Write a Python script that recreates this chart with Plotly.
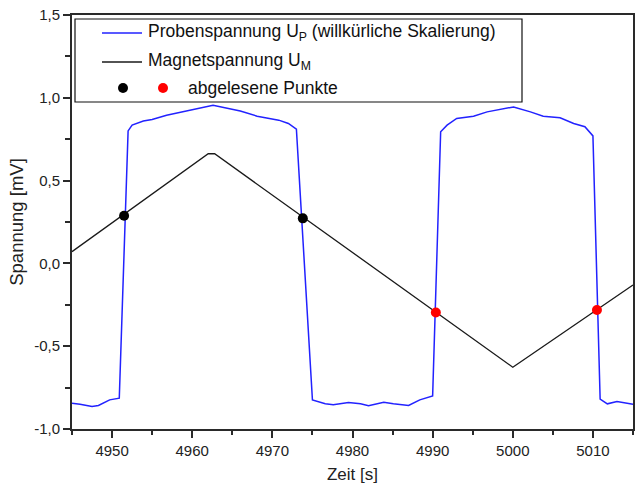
import plotly.graph_objects as go

# ---- data ----
probe_t = [4945.0, 4946.0, 4947.5, 4948.3, 4949.7, 4950.9, 4952.0, 4952.5, 4953.9, 4955.0,
           4956.8, 4959.7, 4962.6, 4966.0, 4968.1, 4970.8, 4972.0, 4973.0, 4975.0, 4976.6,
           4977.6, 4979.5, 4981.0, 4982.0, 4983.9, 4985.1, 4987.0, 4988.4, 4990.0, 4991.0,
           4991.8, 4993.0, 4995.1, 4996.8, 5000.1, 5002.2, 5003.8, 5005.9, 5007.6, 5009.0,
           5010.0, 5010.9, 5011.8, 5013.0, 5014.2, 5015.0]
probe_v = [-0.844, -0.850, -0.864, -0.858, -0.824, -0.814, 0.800, 0.835, 0.860, 0.869,
           0.895, 0.925, 0.955, 0.920, 0.889, 0.865, 0.845, 0.810, -0.824, -0.848,
           -0.854, -0.840, -0.848, -0.860, -0.838, -0.848, -0.858, -0.824, -0.800, 0.795,
           0.835, 0.875, 0.889, 0.915, 0.945, 0.915, 0.889, 0.879, 0.845, 0.825,
           0.770, -0.820, -0.848, -0.834, -0.844, -0.850]

magnet_t = [4945.0, 4962.0, 4962.8, 5000.0, 5015.0]
magnet_v = [0.071, 0.662, 0.662, -0.627, -0.130]

black_pts_t = [4951.5, 4973.8]
black_pts_v = [0.288, 0.272]
red_pts_t = [4990.4, 5010.5]
red_pts_v = [-0.297, -0.281]

x_range = [4945, 5015]
y_range = [-1.0, 1.5]
y_tick_vals = [-1.0, -0.5, 0.0, 0.5, 1.0, 1.5]
y_tick_text = ["-1,0", "-0,5", "0,0", "0,5", "1,0", "1,5"]
y_minor_vals = [-0.75, -0.25, 0.25, 0.75, 1.25]
x_tick_vals = [4950, 4960, 4970, 4980, 4990, 5000, 5010]
x_tick_text = ["4950", "4960", "4970", "4980", "4990", "5000", "5010"]
x_minor_vals = [4945, 4955, 4965, 4975, 4985, 4995, 5005, 5015]

legend_probe = "Probenspannung U<sub>P</sub> (willkürliche Skalierung)"
legend_magnet = "Magnetspannung U<sub>M</sub>"
legend_points = "abgelesene Punkte"

FONT = "Liberation Sans, Arial, sans-serif"
AX = "#2a2a2a"
BLUE = "#2222ff"
DARK = "#1a1a1a"

fig = go.Figure()
fig.add_trace(go.Scatter(x=probe_t, y=probe_v, mode="lines",
                         line=dict(color=BLUE, width=1.5), showlegend=False))
fig.add_trace(go.Scatter(x=magnet_t, y=magnet_v, mode="lines",
                         line=dict(color=DARK, width=1.3), showlegend=False))
fig.add_trace(go.Scatter(x=black_pts_t, y=black_pts_v, mode="markers",
                         marker=dict(color="black", size=10), showlegend=False))
fig.add_trace(go.Scatter(x=red_pts_t, y=red_pts_v, mode="markers",
                         marker=dict(color="#ff0000", size=10), showlegend=False))

# ---- manual legend (plot area: px x 72..633, y 15..429) ----
def px2x(px):
    return (px - 72) / 561.0

def py2y(py):
    return (429 - py) / 414.0

shapes = [
    dict(type="rect", xref="paper", yref="paper", x0=px2x(75), x1=px2x(522),
         y0=py2y(102), y1=py2y(19), line=dict(color="#111", width=1.2),
         fillcolor="white", layer="above"),
    dict(type="line", xref="paper", yref="paper", x0=px2x(102), x1=px2x(142),
         y0=py2y(33), y1=py2y(33), line=dict(color=BLUE, width=1.5), layer="above"),
    dict(type="line", xref="paper", yref="paper", x0=px2x(102), x1=px2x(142),
         y0=py2y(62), y1=py2y(62), line=dict(color=DARK, width=1.3), layer="above"),
    dict(type="circle", xref="paper", yref="paper", xsizemode="pixel", ysizemode="pixel",
         xanchor=px2x(123), yanchor=py2y(88), x0=-5, x1=5, y0=-5, y1=5,
         fillcolor="black", line=dict(width=0), layer="above"),
    dict(type="circle", xref="paper", yref="paper", xsizemode="pixel", ysizemode="pixel",
         xanchor=px2x(163), yanchor=py2y(88), x0=-5, x1=5, y0=-5, y1=5,
         fillcolor="#ff0000", line=dict(width=0), layer="above"),
]
LFONT = dict(family=FONT, size=17.5, color="#111")
annotations = [
    dict(text=legend_probe, xref="paper", yref="paper", x=px2x(146), y=py2y(33),
         xanchor="left", yanchor="middle", showarrow=False, font=LFONT),
    dict(text=legend_magnet, xref="paper", yref="paper", x=px2x(146), y=py2y(62),
         xanchor="left", yanchor="middle", showarrow=False, font=LFONT),
    dict(text=legend_points, xref="paper", yref="paper", x=px2x(186), y=py2y(88),
         xanchor="left", yanchor="middle", showarrow=False, font=LFONT),
]

fig.update_layout(
    width=637, height=494,
    margin=dict(l=72, r=4, t=15, b=65),
    paper_bgcolor="white", plot_bgcolor="white",
    font=dict(family=FONT, size=15, color="#222"),
    showlegend=False,
    shapes=shapes, annotations=annotations,
    xaxis=dict(range=x_range, tickvals=x_tick_vals, ticktext=x_tick_text, automargin=False,
               showgrid=False, zeroline=False, showline=True, linecolor=AX, linewidth=2,
               ticks="outside", ticklen=7, tickwidth=1.5, tickcolor=AX,
               minor=dict(tickvals=x_minor_vals, ticks="outside", ticklen=4,
                          tickwidth=1.5, tickcolor=AX),
               tickfont=dict(size=15), mirror=True,
               title=dict(text="Zeit [s]", font=dict(size=17), standoff=10)),
    yaxis=dict(range=y_range, tickvals=y_tick_vals, ticktext=y_tick_text, automargin=False,
               showgrid=False, zeroline=False, showline=True, linecolor=AX, linewidth=2,
               ticks="outside", ticklen=7, tickwidth=1.5, tickcolor=AX,
               minor=dict(tickvals=y_minor_vals, ticks="outside", ticklen=5,
                          tickwidth=1.5, tickcolor=AX),
               tickfont=dict(size=15), mirror=True,
               title=dict(text="Spannung [mV]", font=dict(size=18.5), standoff=6)),
    yaxis2=dict(range=y_range, overlaying="y", side="right", anchor="x", automargin=False,
                tickvals=y_tick_vals, showticklabels=False, showgrid=False, zeroline=False,
                ticks="inside", ticklen=7, tickwidth=1.5, tickcolor=AX,
                minor=dict(tickvals=y_minor_vals, ticks="inside", ticklen=7,
                           tickwidth=1.5, tickcolor=AX)),
    xaxis2=dict(range=x_range, overlaying="x", side="top", anchor="y", automargin=False,
                tickvals=x_tick_vals, showticklabels=False, showgrid=False, zeroline=False,
                ticks="outside", ticklen=4, tickwidth=1.5, tickcolor=AX,
                minor=dict(tickvals=x_minor_vals, ticks="outside", ticklen=3,
                           tickwidth=1.5, tickcolor=AX)),
)

fig.write_html("out.html", config={"displayModeBar": False},
               post_script="document.body.style.margin='0';document.body.style.padding='0';")
